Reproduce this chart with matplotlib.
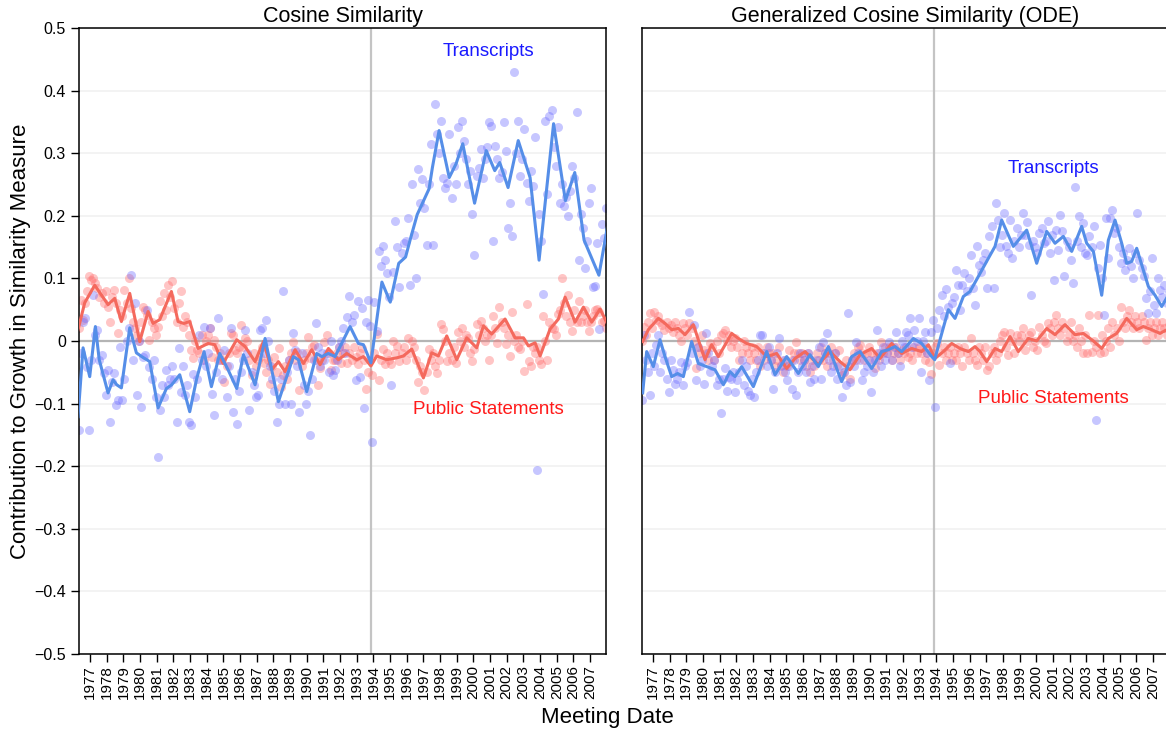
import numpy as np
import matplotlib
matplotlib.use("Agg")
import matplotlib.pyplot as plt

plt.rcParams['font.family'] = ['Liberation Sans', 'DejaVu Sans']

# meeting dates: mid 1976 onwards, 8 meetings a year
meeting_dates = np.arange(1976.3125, 2008.0, 0.125)
release_date = 1993.85
year_ticks = list(range(1977, 2008))

# ---- Cosine similarity, transcripts (dots)
cos_tr_dots = [
    -0.142, -0.02, 0.03, 0.037, -0.041, -0.142,
    -0.03, 0.073, 0.01, 0.018, -0.03, -0.022, -0.051, -0.086,
    -0.046, -0.129, -0.065, -0.051, -0.102, -0.094, -0.009, -0.094,
    -0.06, 0.0, 0.02, 0.105, -0.03, 0.060, -0.086, 0.0,
    -0.105, -0.025, -0.022, 0.050, -0.041, -0.06, -0.03, -0.09,
    -0.185, -0.11, -0.070, -0.09, -0.046, -0.07, -0.06, -0.04,
    -0.060, -0.129, -0.012, -0.081, -0.04, -0.086, -0.07, -0.129,
    -0.134, -0.052, -0.09, -0.06, 0.010, -0.03, 0.023, -0.04,
    -0.02, 0.020, -0.084, -0.118, -0.05, 0.036, -0.03, -0.06,
    -0.014, -0.089, -0.04, 0.020, -0.113, -0.06, -0.132, -0.08,
    -0.05, -0.03, 0.018, -0.02, -0.110, -0.05, -0.07, -0.09,
    -0.086, 0.018, 0.020, -0.02, 0.034, 0.0, -0.04, -0.06,
    -0.08, -0.129, -0.10, -0.06, 0.079, -0.100, -0.05, -0.03,
    -0.100, 0.012, -0.014, -0.04, -0.113, -0.02, -0.07, -0.100,
    -0.08, -0.150, -0.06, -0.03, 0.028, -0.01, -0.04, -0.02,
    -0.03, -0.02, -0.05, 0.0, -0.054, -0.046, -0.03, -0.01,
    0.0, 0.02, -0.02, 0.039, 0.071, 0.03, 0.042, -0.062,
    0.063, -0.057, 0.052, -0.107, 0.031, 0.065, 0.024, -0.161,
    0.062, 0.016, 0.143, 0.12, 0.151, 0.13, 0.108, 0.070,
    -0.070, 0.11, 0.191, 0.15, 0.086, 0.14, 0.156, 0.16,
    0.197, 0.089, 0.250, 0.17, 0.100, 0.275, 0.22, 0.258,
    0.212, 0.153, 0.25, 0.315, 0.153, 0.379, 0.331, 0.30,
    0.352, 0.261, 0.245, 0.253, 0.331, 0.229, 0.28, 0.250,
    0.341, 0.30, 0.352, 0.32, 0.29, 0.25, 0.272, 0.202,
    0.137, 0.264, 0.277, 0.307, 0.261, 0.29, 0.31, 0.350,
    0.344, 0.159, 0.312, 0.29, 0.261, 0.27, 0.350, 0.304,
    0.180, 0.22, 0.167, 0.43, 0.30, 0.352, 0.264, 0.29,
    0.339, 0.253, 0.223, 0.272, 0.248, 0.326, -0.206, 0.202,
    0.16, 0.075, 0.352, 0.234, 0.360, 0.369, 0.31, 0.28,
    0.341, 0.221, 0.25, 0.215, 0.23, 0.20, 0.24, 0.28,
    0.26, 0.366, 0.129, 0.202, 0.18, 0.116, 0.159, 0.22,
    0.245, 0.086, 0.088, 0.156, 0.019, 0.186, 0.164, 0.212,
]

# ---- Cosine similarity, public statements (dots)
cos_ps_dots = [
    0.02, 0.065, 0.034, 0.06, 0.08, 0.103,
    0.097, 0.100, 0.092, 0.085, 0.07, 0.077, 0.06, 0.08,
    0.055, 0.031, 0.07, 0.081, 0.06, 0.012, 0.05, 0.04,
    0.081, 0.06, 0.100, 0.052, 0.031, 0.02, 0.01, 0.0,
    0.03, 0.055, 0.05, 0.042, 0.002, 0.03, 0.02, 0.01,
    0.023, 0.063, 0.04, 0.076, 0.05, 0.089, 0.07, 0.095,
    0.052, 0.031, 0.06, 0.079, 0.023, 0.04, 0.03, 0.01,
    -0.014, -0.028, 0.0, -0.014, -0.02, 0.01, -0.03, 0.0,
    0.01, 0.020, -0.025, 0.002, -0.01, -0.03, -0.02, -0.03,
    -0.065, -0.04, -0.02, 0.012, 0.01, -0.014, -0.02, -0.01,
    0.026, -0.01, 0.004, 0.0, -0.030, -0.054, -0.02, -0.04,
    -0.03, -0.025, -0.01, -0.036, -0.049, -0.03, -0.068, -0.04,
    -0.025, -0.05, -0.012, -0.073, -0.054, -0.04, -0.06, -0.03,
    -0.02, -0.001, -0.03, -0.017, -0.078, -0.04, -0.03, -0.02,
    0.007, -0.028, -0.01, -0.006, -0.03, -0.070, -0.044, -0.03,
    -0.001, 0.010, -0.02, -0.046, -0.03, -0.030, -0.02, -0.01,
    -0.036, -0.02, -0.009, -0.036, -0.02, -0.03, -0.01, -0.025,
    -0.037, -0.02, -0.012, -0.03, -0.076, -0.05, -0.030, -0.054,
    -0.02, 0.011, -0.062, -0.03, -0.013, -0.037, -0.02, -0.03,
    -0.037, 0.000, -0.02, -0.008, -0.032, -0.02, -0.01, -0.03,
    0.005, -0.02, 0.0, -0.01, -0.03, -0.065, -0.04, -0.05,
    -0.078, -0.05, -0.013, -0.03, -0.02, -0.04, -0.051, -0.03,
    0.027, 0.019, 0.0, -0.032, -0.02, -0.03, -0.01, -0.035,
    0.014, 0.0, 0.02, -0.01, 0.01, 0.005, -0.02, -0.032,
    -0.013, 0.027, 0.01, 0.032, 0.02, 0.0, 0.01, -0.03,
    0.01, 0.040, 0.02, -0.003, 0.054, 0.03, 0.02, -0.005,
    0.01, -0.024, 0.046, 0.0, 0.01, -0.01, -0.013, 0.0,
    -0.048, 0.059, -0.032, -0.040, -0.01, -0.02, -0.01, -0.03,
    -0.037, 0.040, 0.0, -0.030, 0.030, 0.02, 0.019, 0.01,
    0.043, 0.05, 0.100, 0.06, 0.04, 0.073, 0.03, 0.016,
    0.05, 0.03, 0.064, 0.030, 0.04, 0.05, 0.03, 0.016,
    0.03, 0.040, 0.05, 0.051, 0.046, 0.03, 0.032, 0.02,
]

# ---- Generalized cosine similarity (ODE), transcripts (dots)
ode_tr_dots = [
    -0.094, 0.010, -0.03, -0.05, -0.086, -0.02,
    -0.04, -0.006, 0.01, -0.05, -0.02, -0.03, -0.06, -0.081,
    -0.030, -0.046, -0.068, -0.06, -0.05, -0.033, -0.07, -0.04,
    -0.033, 0.047, -0.02, 0.026, -0.062, -0.01, -0.04, -0.03,
    -0.068, 0.012, -0.02, -0.05, -0.04, -0.03, -0.07, -0.06,
    -0.115, -0.060, -0.044, -0.08, -0.057, -0.06, -0.05, -0.081,
    -0.062, -0.05, -0.03, -0.07, -0.04, -0.08, -0.086, -0.06,
    -0.09, -0.05, -0.03, 0.010, 0.010, -0.02, -0.04, -0.01,
    -0.03, -0.076, -0.05, -0.02, 0.004, -0.04, -0.03, -0.05,
    -0.062, -0.04, -0.076, -0.03, -0.086, -0.05, -0.02, -0.04,
    -0.03, -0.05, -0.02, -0.065, -0.04, -0.06, -0.03, -0.01,
    -0.060, -0.001, -0.02, 0.012, -0.03, -0.05, -0.04, -0.02,
    -0.06, -0.04, -0.089, -0.05, -0.07, 0.044, -0.065, -0.03,
    -0.04, -0.001, -0.02, -0.03, -0.062, -0.05, -0.04, -0.03,
    -0.081, -0.05, -0.03, 0.018, -0.02, -0.04, -0.01, -0.03,
    -0.02, -0.001, -0.03, -0.01, 0.015, -0.02, -0.04, 0.0,
    -0.01, 0.015, 0.01, 0.036, -0.01, 0.018, 0.0, 0.036,
    -0.049, 0.0, 0.015, -0.02, -0.062, 0.015, 0.034, -0.105,
    0.02, 0.05, 0.073, 0.04, 0.083, 0.055, -0.036, 0.06,
    0.07, 0.113, 0.09, 0.050, 0.089, 0.108, 0.08, 0.10,
    0.137, 0.084, 0.058, 0.151, 0.121, 0.11, 0.13, 0.14,
    0.084, 0.167, 0.183, 0.084, 0.220, 0.193, 0.15, 0.17,
    0.204, 0.151, 0.140, 0.193, 0.132, 0.16, 0.18, 0.15,
    0.17, 0.204, 0.169, 0.19, 0.153, 0.073, 0.16, 0.15,
    0.14, 0.172, 0.18, 0.156, 0.16, 0.191, 0.14, 0.17,
    0.097, 0.177, 0.145, 0.201, 0.175, 0.103, 0.16, 0.15,
    0.13, 0.092, 0.246, 0.16, 0.199, 0.15, 0.188, 0.14,
    0.137, 0.167, 0.15, 0.183, -0.126, 0.116, 0.153, 0.10,
    0.042, 0.196, 0.132, 0.196, 0.209, 0.172, 0.18, 0.15,
    0.124, 0.14, 0.113, 0.13, 0.148, 0.12, 0.10, 0.14,
    0.204, 0.13, 0.116, 0.103, 0.068, 0.044, 0.08, 0.132,
    0.058, 0.044, 0.100, 0.081, 0.07, 0.09, 0.06, 0.08,
]

# ---- Generalized cosine similarity (ODE), public statements (dots)
ode_ps_dots = [
    0.0, 0.023, 0.01, 0.03, 0.044, 0.02,
    0.047, 0.034, 0.04, 0.03, 0.026, 0.018, 0.03, 0.02,
    0.026, 0.015, 0.03, 0.02, 0.01, 0.0, 0.028, 0.02,
    0.01, 0.028, 0.02, 0.0, -0.044, -0.01, -0.02, 0.01,
    -0.014, -0.02, -0.03, -0.004, -0.01, -0.03, 0.0, -0.02,
    0.01, 0.012, 0.018, 0.0, 0.01, -0.01, 0.0, 0.005,
    -0.01, -0.030, -0.02, 0.0, -0.01, -0.02, -0.03, -0.01,
    -0.02, -0.03, -0.01, -0.04, -0.02, -0.03, -0.01, -0.02,
    -0.03, -0.02, -0.04, -0.03, -0.01, -0.038, -0.05, -0.03,
    -0.04, -0.014, -0.03, -0.02, -0.001, -0.02, -0.03, -0.02,
    -0.03, -0.04, -0.02, -0.05, -0.03, -0.04, -0.02, -0.03,
    -0.01, -0.03, -0.02, -0.04, -0.02, -0.01, -0.03, -0.02,
    -0.04, -0.014, -0.054, -0.05, -0.03, -0.04, -0.06, -0.03,
    -0.02, -0.03, -0.01, -0.006, -0.02, -0.03, -0.02, -0.01,
    -0.02, -0.03, -0.044, -0.02, -0.03, -0.001, -0.02, -0.01,
    -0.02, -0.01, -0.03, -0.02, -0.01, -0.02, -0.03, -0.015,
    -0.02, -0.01, -0.025, -0.02, -0.03, -0.01, -0.02, -0.01,
    -0.02, -0.01, -0.03, -0.02, -0.033, -0.052, -0.02, -0.01,
    -0.004, -0.038, -0.02, -0.01, -0.03, -0.02, -0.01, -0.03,
    -0.02, -0.03, -0.01, -0.02, -0.04, -0.01, -0.02, -0.03,
    0.004, -0.02, -0.03, -0.038, -0.01, -0.02, -0.03, -0.01,
    -0.046, -0.04, -0.02, -0.01, -0.03, -0.02, 0.0, 0.01,
    0.015, -0.01, -0.022, 0.012, 0.0, -0.02, 0.01, 0.0,
    0.01, 0.02, -0.014, 0.0, 0.01, 0.015, -0.01, 0.0,
    -0.014, 0.023, 0.01, 0.0, -0.004, 0.028, 0.02, 0.01,
    0.03, 0.042, 0.02, 0.01, 0.03, 0.02, 0.0, 0.01,
    0.03, 0.0, 0.01, -0.01, 0.02, 0.0, -0.02, 0.01,
    -0.020, 0.042, -0.017, 0.0, -0.01, 0.042, -0.02, 0.01,
    -0.017, 0.0, 0.02, -0.01, 0.03, 0.01, 0.02, 0.0,
    0.055, 0.03, 0.02, 0.04, 0.05, 0.03, 0.02, 0.04,
    0.03, 0.02, 0.04, 0.03, 0.002, 0.02, 0.03, 0.01,
    0.02, 0.03, 0.01, 0.02, 0.03, 0.02, 0.01, 0.025,
]

# ---- smoothed lines
cos_tr_line_x = [1976.28, 1976.58, 1976.98, 1977.32, 1977.55, 1978.08, 1978.38, 1978.6, 1978.88,
                 1979.38, 1979.78, 1980.1, 1980.58, 1981.08, 1981.58, 1981.9, 1982.38, 1982.98,
                 1983.4, 1983.84, 1984.28, 1984.78, 1985.28, 1985.8, 1986.2, 1986.9, 1987.5,
                 1988.3, 1989.2, 1989.5, 1990.0, 1990.6, 1990.9, 1991.3, 1991.7, 1992.6, 1993.1,
                 1993.4, 1993.85, 1994.51, 1995.01, 1995.52, 1995.93, 1996.23, 1996.63, 1997.34,
                 1997.54, 1997.94, 1998.55, 1998.96, 1999.36, 2000.07, 2000.77, 2001.28, 2001.58,
                 2002.08, 2002.69, 2003.4, 2003.94, 2004.81, 2005.52, 2006.08, 2006.64, 2007.53,
                 2008.13]
cos_tr_line_y = [-0.121, -0.011, -0.057, 0.023, -0.03, -0.083, -0.062, -0.07, -0.075,
                 0.021, -0.019, -0.025, -0.033, -0.107, -0.076, -0.07, -0.054, -0.113,
                 -0.06, -0.017, -0.073, -0.02, -0.046, -0.076, -0.022, -0.07, 0.004,
                 -0.097, -0.025, -0.03, -0.081, -0.02, -0.025, -0.02, -0.025, 0.023, -0.004,
                 -0.006, -0.035, 0.094, 0.062, 0.124, 0.134, 0.164, 0.202, 0.243,
                 0.277, 0.336, 0.261, 0.283, 0.315, 0.220, 0.304, 0.272, 0.285,
                 0.245, 0.320, 0.261, 0.129, 0.347, 0.224, 0.269, 0.161, 0.105,
                 0.196]

cos_ps_line_x = [1976.28, 1976.68, 1977.28, 1978.08, 1978.48, 1978.88, 1979.38, 1979.98, 1980.48,
                 1980.78, 1981.18, 1981.88, 1982.28, 1982.62, 1982.98, 1983.48, 1984.08, 1984.48,
                 1984.98, 1985.8, 1986.3, 1986.9, 1987.4, 1987.9, 1988.3, 1988.7, 1989.3, 1989.8,
                 1990.3, 1990.8, 1991.3, 1991.9, 1992.4, 1993.0, 1993.4, 1993.85, 1994.2, 1994.8,
                 1995.4, 1995.8, 1996.3, 1997.0, 1997.5, 1997.9, 1998.4, 1999.0, 1999.6, 2000.2,
                 2000.6, 2001.1, 2001.9, 2002.5, 2003.0, 2003.3, 2003.7, 2004.0, 2004.6, 2005.1,
                 2005.5, 2006.1, 2006.6, 2007.1, 2007.6, 2008.1]
cos_ps_line_y = [0.018, 0.061, 0.089, 0.058, 0.068, 0.031, 0.076, -0.001, 0.047,
                 0.028, 0.034, 0.079, 0.031, 0.028, 0.031, -0.012, -0.004, -0.006,
                 -0.036, 0.002, -0.009, -0.033, -0.001, -0.046, -0.033, -0.049, -0.014, -0.036,
                 -0.014, -0.038, -0.012, -0.030, -0.020, -0.030, -0.025, -0.040, -0.024, -0.030,
                 -0.027, -0.024, -0.013, -0.059, -0.019, -0.024, 0.008, -0.030, 0.005, -0.011,
                 0.024, 0.011, 0.035, 0.005, 0.005, -0.008, -0.003, -0.024, 0.019, 0.035,
                 0.070, 0.030, 0.054, 0.030, 0.051, 0.024]

ode_tr_line_x = [1976.38, 1976.62, 1977.02, 1977.42, 1977.72, 1978.12, 1978.48, 1978.82, 1979.32,
                 1979.72, 1980.22, 1980.72, 1981.22, 1981.62, 1981.92, 1982.32, 1983.02, 1983.82,
                 1984.32, 1985.02, 1985.72, 1986.42, 1986.92, 1987.52, 1988.32, 1988.92, 1989.42,
                 1990.12, 1990.72, 1991.12, 1991.52, 1991.92, 1992.62, 1993.12, 1993.72, 1993.9,
                 1994.22, 1994.72, 1995.12, 1995.62, 1996.02, 1996.52, 1997.12, 1997.52, 1997.92,
                 1998.62, 1999.42, 2000.02, 2000.62, 2001.12, 2001.62, 2002.12, 2002.72, 2003.02,
                 2003.42, 2003.92, 2004.32, 2004.72, 2005.12, 2005.42, 2005.72, 2006.02, 2006.42,
                 2006.72, 2007.12, 2007.52, 2007.96]
ode_tr_line_y = [-0.083, -0.017, -0.041, 0.002, -0.025, -0.057, -0.052, -0.057, -0.001,
                 -0.036, -0.041, -0.046, -0.070, -0.049, -0.057, -0.041, -0.073, -0.017,
                 -0.054, -0.025, -0.052, -0.022, -0.041, -0.009, -0.065, -0.025, -0.017,
                 -0.044, -0.017, -0.014, -0.009, -0.017, 0.004, -0.004, -0.025, -0.03,
                 0.002, 0.050, 0.036, 0.071, 0.079, 0.103, 0.132, 0.151, 0.193,
                 0.151, 0.177, 0.124, 0.175, 0.156, 0.167, 0.143, 0.183, 0.156,
                 0.143, 0.073, 0.161, 0.193, 0.156, 0.124, 0.127, 0.148, 0.113,
                 0.087, 0.073, 0.055, 0.075]

ode_ps_line_x = [1976.38, 1976.72, 1977.32, 1977.72, 1978.12, 1978.52, 1978.92, 1979.42, 1980.12,
                 1980.52, 1980.92, 1981.72, 1982.12, 1982.62, 1983.22, 1983.82, 1984.42, 1985.02,
                 1985.52, 1986.12, 1986.92, 1987.62, 1988.22, 1988.82, 1989.42, 1990.12, 1990.62,
                 1991.32, 1991.92, 1992.52, 1993.12, 1993.52, 1993.92, 1994.42, 1994.92, 1995.42,
                 1995.92, 1996.32, 1996.62, 1997.02, 1997.52, 1997.92, 1998.42, 1998.92, 1999.52,
                 2000.02, 2000.62, 2001.12, 2001.72, 2002.32, 2002.82, 2003.42, 2003.92, 2004.32,
                 2004.82, 2005.42, 2006.02, 2006.42, 2006.92, 2007.42, 2007.96]
ode_ps_line_y = [-0.001, 0.018, 0.036, 0.028, 0.018, 0.020, 0.010, 0.026, -0.030,
                 -0.006, -0.025, 0.012, 0.004, -0.004, -0.009, -0.025, -0.020, -0.044,
                 -0.028, -0.017, -0.038, -0.017, -0.033, -0.046, -0.022, -0.012, -0.028,
                 -0.004, -0.020, -0.012, -0.017, -0.006, -0.028, -0.017, -0.004, -0.012,
                 -0.017, -0.009, -0.017, -0.033, -0.012, -0.017, 0.007, -0.017, 0.004,
                 0.000, 0.020, 0.010, 0.026, 0.010, 0.012, 0.000, -0.012, 0.004,
                 0.012, 0.036, 0.018, 0.023, 0.018, 0.012, 0.020]

panel_titles = ["Cosine Similarity", "Generalized Cosine Similarity (ODE)"]
# label anchors: (x, y) in data units for Transcripts / Public Statements
label_pos = [((2000.9, 0.462), (2000.9, -0.110)),
             ((2001.0, 0.275), (2001.0, -0.092))]

dot_blue = '#6a6aff'
dot_red = '#ff6e6e'
line_blue = '#558ee8'
line_red = '#f4695d'

fig = plt.figure(figsize=(11.66, 7.34), dpi=100)
ax1 = fig.add_axes([0.0678, 0.109, 0.452, 0.853])
ax2 = fig.add_axes([0.5506, 0.109, 0.452, 0.853])

panels = [(ax1, cos_tr_dots, cos_ps_dots, cos_tr_line_x, cos_tr_line_y, cos_ps_line_x, cos_ps_line_y),
          (ax2, ode_tr_dots, ode_ps_dots, ode_tr_line_x, ode_tr_line_y, ode_ps_line_x, ode_ps_line_y)]

yt = np.round(np.arange(-0.5, 0.51, 0.1), 1)

for i, (ax, trd, psd, tlx, tly, plx, ply) in enumerate(panels):
    for v in yt:
        if v != 0:
            ax.axhline(v, color='#f1f1f1', lw=1.2, zorder=0)
    ax.axhline(0, color='#b4b4b4', lw=1.6, zorder=1)
    ax.axvline(release_date, color='#c4c4c4', lw=1.6, zorder=1)

    ax.scatter(meeting_dates, psd, s=42, color=dot_red, alpha=0.4, linewidths=0, zorder=2)
    ax.scatter(meeting_dates, trd, s=42, color=dot_blue, alpha=0.38, linewidths=0, zorder=2)
    ax.plot(plx, ply, color=line_red, lw=2.2, zorder=3, solid_joinstyle='round')
    ax.plot(tlx, tly, color=line_blue, lw=2.2, zorder=4, solid_joinstyle='round')

    (tx, ty), (px, py) = label_pos[i]
    ax.text(tx, ty, "Transcripts", color='#1a1aff', fontsize=13.5, ha='center', va='center')
    ax.text(px, py, "Public Statements", color='#ff1a1a', fontsize=13.5, ha='center', va='center')

    ax.set_xlim(1976.34, 2007.96)
    ax.set_ylim(-0.5, 0.5)
    ax.set_xticks(year_ticks)
    ax.set_xticklabels([str(y) for y in year_ticks], rotation=90, fontsize=11)
    ax.tick_params(axis='x', direction='out', length=6, width=1, pad=2)
    ax.set_title(panel_titles[i], fontsize=15.5, pad=4)
    for sp in ax.spines.values():
        sp.set_linewidth(1.1)
        sp.set_color('black')

ax1.set_yticks(yt)
ax1.set_yticklabels(['0' if v == 0 else ('%.1f' % v).replace('-', '\u2212') for v in yt], fontsize=11.5)
ax1.tick_params(axis='y', direction='out', length=6, width=1)
ax2.set_yticks([])

fig.text(0.521, 0.022, "Meeting Date", fontsize=16, ha='center', va='center')
fig.text(0.018, 0.535, "Contribution to Growth in Similarity Measure", fontsize=16,
         rotation=90, ha='center', va='center')

fig.savefig("out.png", dpi=100)
